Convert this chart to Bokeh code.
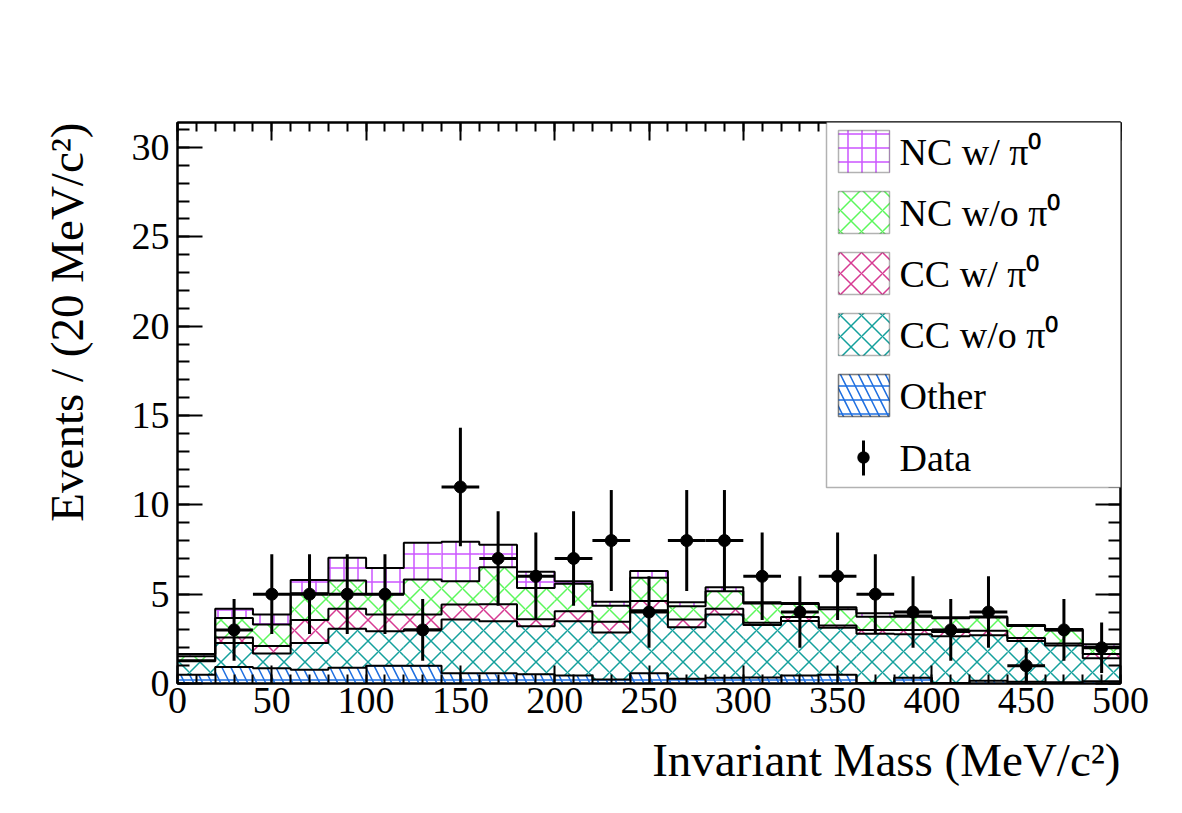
import numpy as np
from bokeh.plotting import figure
from bokeh.models import (Range1d, LinearAxis, SingleIntervalTicker, BoxAnnotation,
                          Label, PolyAnnotation, Title)
from bokeh.embed import file_html
from bokeh.resources import INLINE

# ---------------- data ----------------
bin_edges = [0, 20, 40, 60, 80, 100, 120, 140, 160, 180, 200, 220, 240, 260, 280,
             300, 320, 340, 360, 380, 400, 420, 440, 460, 480, 500]

other = [0.49, 0.92, 0.85, 0.77, 0.88, 1.00, 1.00, 0.58, 0.58, 0.52, 0.45, 0.22, 0.58,
         0.26, 0.32, 0.34, 0.45, 0.49, 0.03, 0.32, 0.03, 0.15, 0.10, 0.07, 0.12]
cc_wo_pi0 = [0.75, 1.35, 0.83, 1.50, 2.19, 1.92, 2.02, 3.00, 2.90, 2.68, 3.03, 2.63, 3.52,
             2.89, 3.54, 2.94, 3.05, 2.63, 2.75, 2.43, 2.61, 2.55, 2.28, 2.05, 1.30]
cc_w_pi0 = [0.06, 0.31, 0.42, 1.28, 1.12, 0.94, 0.84, 0.84, 0.96, 0.40, 0.56, 0.60, 0.52,
            0.43, 0.33, 0.12, 0.22, 0.12, 0.22, 0.25, 0.24, 0.25, 0.17, 0.12, 0.23]
nc_wo_pi0 = [0.22, 1.09, 1.20, 1.50, 1.58, 1.14, 1.96, 1.31, 2.06, 1.75, 1.54, 0.90, 1.30,
             0.75, 0.98, 1.08, 0.73, 0.91, 0.73, 0.73, 0.77, 0.75, 0.67, 0.74, 0.40]
nc_w_pi0 = [0.13, 0.51, 0.56, 0.75, 1.27, 1.46, 2.06, 2.21, 1.27, 0.90, 0.15, 0.23, 0.37,
            0.22, 0.22, 0.07, 0.06, 0.12, 0.20, 0.07, 0.06, 0.05, 0.06, 0.07, 0.15]
data_counts = [0, 3, 5, 5, 5, 5, 3, 11, 7, 6, 7, 8, 4, 8, 8, 6, 4, 6, 5, 4, 3, 4, 1, 3, 2]

layer_names = ["Other", "CC w/o π⁰", "CC w/ π⁰", "NC w/o π⁰", "NC w/ π⁰"]
x_tick_step = 50
y_tick_step = 5

# ---------------- styles ----------------
FONT = "Liberation Serif"
VIOLET = "#cc55ff"
GREEN = "#5cf75c"
MAGENTA = "#d63a92"
TEAL = "#14a09c"
BLUE = "#1d6ee0"

layer_styles = [
    dict(hatch_pattern="left_diagonal_line", hatch_color=BLUE, hatch_scale=18),
    dict(hatch_pattern="diagonal_cross", hatch_color=TEAL, hatch_scale=21),
    dict(hatch_pattern="diagonal_cross", hatch_color=MAGENTA, hatch_scale=21),
    dict(hatch_pattern="diagonal_cross", hatch_color=GREEN, hatch_scale=21),
    dict(hatch_pattern="cross", hatch_color=VIOLET, hatch_scale=14),
]
other_extra = dict(hatch_pattern="horizontal_line", hatch_color=BLUE, hatch_scale=14)

p = figure(width=1182, height=813, x_range=Range1d(0, 500), y_range=Range1d(0, 31.4),
           output_backend="svg", toolbar_location=None,
           min_border_left=177, min_border_right=62, min_border_top=122, min_border_bottom=130)
p.background_fill_color = "white"
p.border_fill_color = "white"
p.grid.visible = False
p.outline_line_color = "black"
p.outline_line_width = 2

edges = np.array(bin_edges, dtype=float)
left = edges[:-1]
right = edges[1:]
components = [other, cc_wo_pi0, cc_w_pi0, nc_wo_pi0, nc_w_pi0]

bottom = np.zeros(len(left))
tops = []
for comp, style in zip(components, layer_styles):
    top = bottom + np.array(comp)
    p.quad(left=left, right=right, bottom=bottom, top=top, fill_color=None,
           line_color=None, hatch_weight=1.5, **style)
    if comp is other:
        p.quad(left=left, right=right, bottom=bottom, top=top, fill_color=None,
               line_color=None, hatch_weight=1.5, **other_extra)
    tops.append(top)
    bottom = top

for top in tops:
    p.step(x=edges, y=np.append(top, top[-1]), mode="after", line_color="black",
           line_width=2)

# data points
centers = (left + right) / 2
counts = np.array(data_counts, dtype=float)
mask = counts > 0
cx = centers[mask]
cy = counts[mask]
err = np.sqrt(cy)
half = (right - left)[mask] / 2
p.segment(x0=cx, y0=cy - err, x1=cx, y1=cy + err, line_color="black", line_width=3)
p.segment(x0=cx - half, y0=cy, x1=cx + half, y1=cy, line_color="black", line_width=3)
p.scatter(cx, cy, size=12, color="black")

# axes
def style_axis(ax, major_in, minor_in, labels=True):
    ax.major_tick_in = major_in
    ax.major_tick_out = 0
    ax.minor_tick_in = minor_in
    ax.minor_tick_out = 0
    ax.axis_line_width = 2
    ax.major_tick_line_width = 2
    ax.minor_tick_line_width = 2
    ax.major_label_text_font = FONT
    if labels:
        ax.major_label_text_font_size = "38px"
        ax.major_label_text_color = "black"
    else:
        ax.major_label_text_font_size = "10px"
        ax.major_label_text_color = None

p.xaxis.ticker = SingleIntervalTicker(interval=x_tick_step, num_minor_ticks=5)
p.yaxis.ticker = SingleIntervalTicker(interval=y_tick_step, num_minor_ticks=5)
style_axis(p.xaxis[0], 18, 9)
style_axis(p.yaxis[0], 25, 12)
p.xaxis[0].major_label_standoff = 4
p.yaxis[0].major_label_standoff = 8

top_axis = LinearAxis(ticker=SingleIntervalTicker(interval=x_tick_step, num_minor_ticks=5))
style_axis(top_axis, 18, 9, labels=False)
p.add_layout(top_axis, "above")
right_axis = LinearAxis(ticker=SingleIntervalTicker(interval=y_tick_step, num_minor_ticks=5))
style_axis(right_axis, 25, 12, labels=False)
p.add_layout(right_axis, "right")

# axis titles
xt = Title(text="Invariant Mass (MeV/c²)", align="right", text_font=FONT,
           text_font_size="47px", text_font_style="normal", text_color="black", standoff=32)
p.add_layout(xt, "below")
yt = Title(text="Events / (20 MeV/c²)", align="right", text_font=FONT,
           text_font_size="47px", text_font_style="normal", text_color="black", standoff=72)
p.add_layout(yt, "left")

# legend (screen units relative to frame bottom-left)
FX, FY = 177, 683
def fx(sx):
    return sx - FX
def fy(sy):
    return FY - sy

p.add_layout(BoxAnnotation(left=fx(826), right=fx(1122), top=fy(120), bottom=fy(487),
                           left_units="screen", right_units="screen",
                           top_units="screen", bottom_units="screen",
                           fill_color="white", fill_alpha=1, line_color="black",
                           line_width=1.5, level="annotation"))

legend_order = [4, 3, 2, 1, 0]
for i, li in enumerate(legend_order):
    top_s = 130 + 61 * i
    bot_s = top_s + 42
    style = layer_styles[li]
    p.add_layout(BoxAnnotation(left=fx(838), right=fx(889), top=fy(top_s), bottom=fy(bot_s),
                               left_units="screen", right_units="screen",
                               top_units="screen", bottom_units="screen",
                               fill_color="white", fill_alpha=1, line_color="black",
                               line_width=1.5, hatch_weight=1.5, **style))
    if li == 0:
        p.add_layout(BoxAnnotation(left=fx(838), right=fx(889), top=fy(top_s), bottom=fy(bot_s),
                                   left_units="screen", right_units="screen",
                                   top_units="screen", bottom_units="screen",
                                   fill_color=None, fill_alpha=0, line_color="black",
                                   line_width=1.5, hatch_weight=1.5, **other_extra))
    p.add_layout(Label(x=fx(899), y=fy((top_s + bot_s) / 2), x_units="screen", y_units="screen",
                       text=layer_names[li], text_font=FONT, text_font_size="38px",
                       text_color="black", text_baseline="middle", text_align="left"))

# data legend entry
dcx, dcy = 863, 457
p.add_layout(BoxAnnotation(left=fx(dcx - 1.5), right=fx(dcx + 1.5), top=fy(440), bottom=fy(475),
                           left_units="screen", right_units="screen",
                           top_units="screen", bottom_units="screen",
                           fill_color="black", fill_alpha=1, line_color=None))
ang = np.linspace(0, 2 * np.pi, 24, endpoint=False)
p.add_layout(PolyAnnotation(xs=list(fx(dcx) + 6 * np.cos(ang)), ys=list(fy(dcy) + 6 * np.sin(ang)),
                            xs_units="screen", ys_units="screen",
                            fill_color="black", fill_alpha=1, line_color="black"))
p.add_layout(Label(x=fx(899), y=fy(dcy), x_units="screen", y_units="screen",
                   text="Data", text_font=FONT, text_font_size="38px", text_color="black",
                   text_baseline="middle", text_align="left"))

open("out.html", "w").write(file_html(p, INLINE))
